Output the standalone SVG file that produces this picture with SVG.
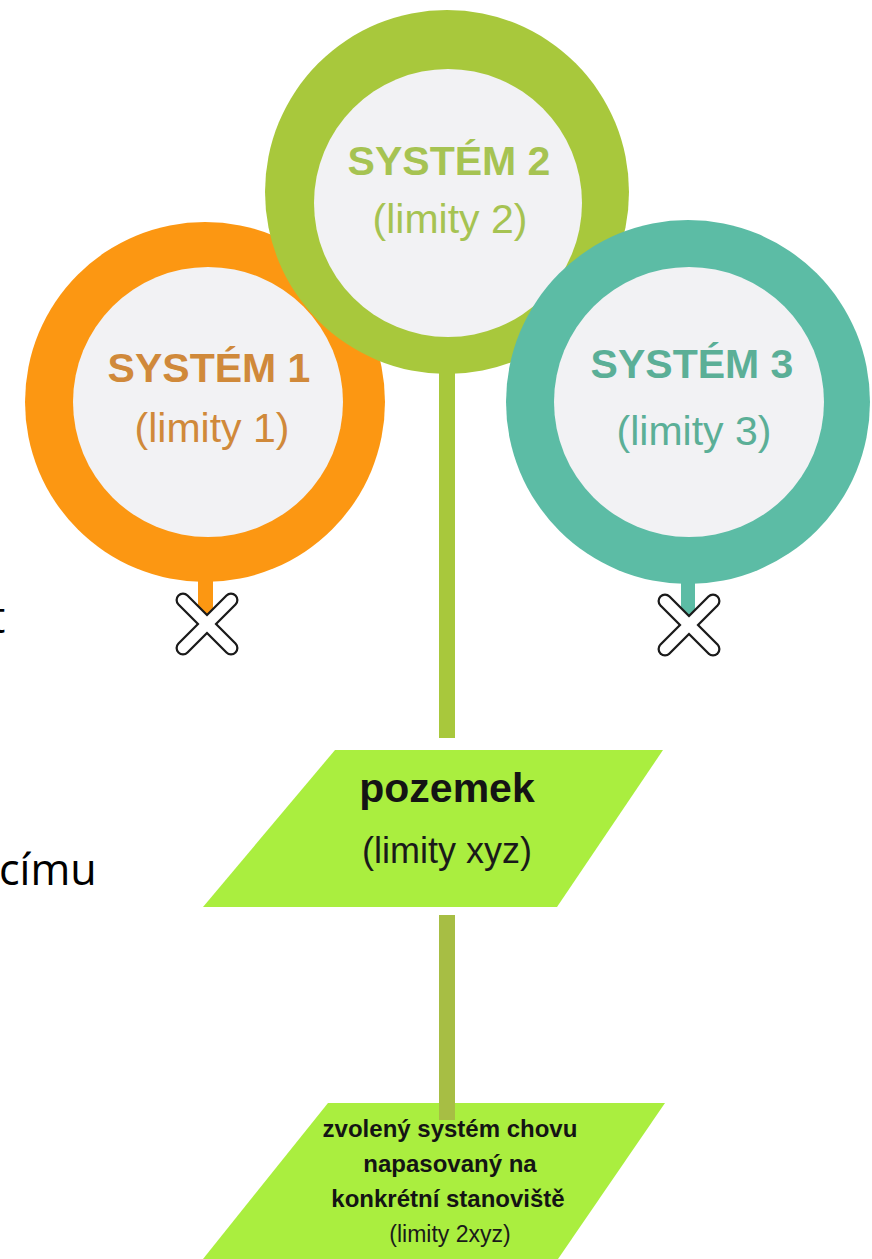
<svg xmlns="http://www.w3.org/2000/svg" width="872" height="1259" viewBox="0 0 872 1259">
<style>
.ring1{fill:#FC9712}
.ring2{fill:#A8C83C}
.ring3{fill:#5CBCA5}
.inner{fill:#F2F2F4}
.title{font-family:"Liberation Sans",Arial,sans-serif;font-weight:bold;font-size:41px;text-anchor:middle}
.sub{font-family:"Liberation Sans",Arial,sans-serif;font-size:41px;text-anchor:middle}
.t1{fill:#D0893A}
.t2{fill:#A6C352}
.t3{fill:#5BAF97}
.para{fill:#AAEE3F}
.ptitle{font-family:"Liberation Sans",Arial,sans-serif;font-weight:bold;fill:#141414;text-anchor:middle}
.psub{font-family:"Liberation Sans",Arial,sans-serif;fill:#1a1a1a;text-anchor:middle}
.frag{font-family:"Open Sans","Noto Sans",sans-serif;font-size:43px;fill:#000}
.xo{stroke:#1a1a1a;stroke-width:15;stroke-linecap:round;fill:none}
.xi{stroke:#ffffff;stroke-width:10.5;stroke-linecap:round;fill:none}
</style>
<rect width="872" height="1259" fill="#ffffff"/>
<text class="frag" x="-10" y="633">t</text>
<text class="frag" x="-1" y="885">címu</text>
<g id="system1">
<circle class="ring1" cx="205" cy="402" r="180"/>
<circle class="inner" cx="208" cy="402" r="135"/>
<text class="title t1" x="209" y="382">SYSTÉM 1</text>
<text class="sub t1" x="212" y="442">(limity 1)</text>
</g>
<g id="system2">
<circle class="ring2" cx="447" cy="192" r="182"/>
<circle class="inner" cx="448" cy="203" r="134"/>
<text class="title t2" x="449" y="175">SYSTÉM 2</text>
<text class="sub t2" x="450" y="233">(limity 2)</text>
</g>
<g id="system3">
<circle class="ring3" cx="688" cy="402" r="182"/>
<circle class="inner" cx="689" cy="402" r="135"/>
<text class="title t3" x="692" y="378">SYSTÉM 3</text>
<text class="sub t3" x="694" y="445">(limity 3)</text>
</g>
<g id="pozemek">
<polygon class="para" points="335,750 663,750 557,907 203,907"/>
<text class="ptitle" x="447" y="802" font-size="41">pozemek</text>
<text class="psub" x="447" y="863" font-size="36">(limity xyz)</text>
</g>
<g id="zvoleny">
<polygon class="para" points="328,1103 665,1103 558,1259 203,1259"/>
<text class="ptitle" x="450" y="1137" font-size="24">zvolený systém chovu</text>
<text class="ptitle" x="450" y="1172" font-size="24">napasovaný na</text>
<text class="ptitle" x="448" y="1207" font-size="24">konkrétní stanoviště</text>
<text class="psub" x="450" y="1242" font-size="23">(limity 2xyz)</text>
</g>
<g id="connectors">
<rect x="198" y="578" width="15" height="38" fill="#FC9712"/>
<rect x="681" y="580" width="14" height="36" fill="#5CBCA5"/>
<rect x="439" y="368" width="16" height="370" fill="#A8C83C"/>
<rect x="439" y="915" width="16" height="205" fill="#A7BE44"/>
<g id="x1">
<line class="xo" x1="183" y1="600" x2="231" y2="648"/>
<line class="xo" x1="231" y1="600" x2="183" y2="648"/>
<line class="xi" x1="183" y1="600" x2="231" y2="648"/>
<line class="xi" x1="231" y1="600" x2="183" y2="648"/>
</g>
<g id="x3">
<line class="xo" x1="665" y1="601" x2="713" y2="649"/>
<line class="xo" x1="713" y1="601" x2="665" y2="649"/>
<line class="xi" x1="665" y1="601" x2="713" y2="649"/>
<line class="xi" x1="713" y1="601" x2="665" y2="649"/>
</g>
</g>
</svg>
